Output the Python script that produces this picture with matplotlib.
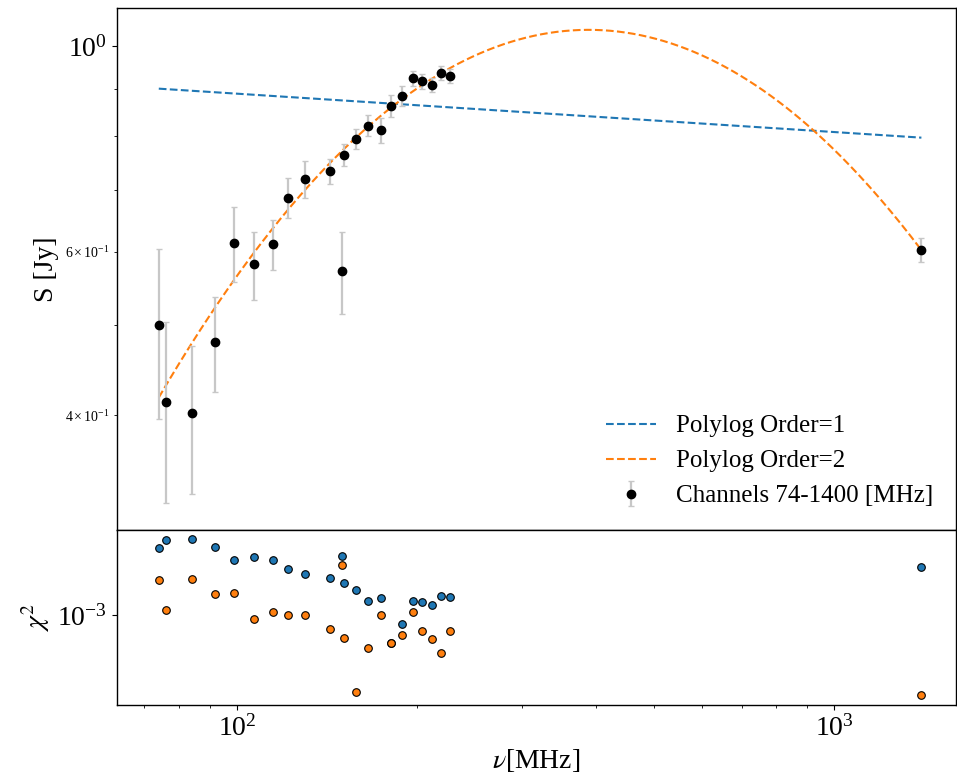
import numpy as np
import matplotlib
matplotlib.use('Agg')
import matplotlib.pyplot as plt
from matplotlib.ticker import NullLocator

plt.rcParams['font.family'] = ['Liberation Serif', 'DejaVu Serif']
plt.rcParams['mathtext.fontset'] = 'stix'

# channel frequencies [MHz]
freq = [74, 76, 84, 92, 99, 107, 115, 122, 130, 143, 150, 151, 158, 166,
        174, 181, 189, 197, 204, 212, 220, 227, 1400]
# flux density [Jy] and errors
flux = [0.500, 0.413, 0.402, 0.480, 0.614, 0.582, 0.612, 0.686, 0.719, 0.733,
        0.572, 0.764, 0.794, 0.821, 0.812, 0.862, 0.884, 0.923, 0.917, 0.908,
        0.935, 0.929, 0.603]
flux_err = [0.104, 0.091, 0.073, 0.056, 0.057, 0.049, 0.038, 0.034, 0.033, 0.023,
            0.058, 0.021, 0.020, 0.021, 0.025, 0.024, 0.022, 0.018, 0.017, 0.016,
            0.016, 0.016, 0.018]

# chi^2 per channel for each fit
chi2_order1 = [1.0640e-3, 1.0716e-3, 1.0729e-3, 1.0653e-3, 1.0525e-3, 1.0552e-3,
               1.0525e-3, 1.0438e-3, 1.0390e-3, 1.0351e-3, 1.0564e-3, 1.0303e-3,
               1.0231e-3, 1.0133e-3, 1.0161e-3, 0.9741e-3, 0.9920e-3, 1.0133e-3,
               1.0121e-3, 1.0096e-3, 1.0180e-3, 1.0171e-3, 1.0451e-3]
chi2_order2 = [1.0329e-3, 1.0049e-3, 1.0339e-3, 1.0193e-3, 1.0206e-3, 0.9966e-3,
               1.0025e-3, 1.0001e-3, 1.0001e-3, 0.9871e-3, 1.0474e-3, 0.9789e-3,
               0.9315e-3, 0.9699e-3, 1.0001e-3, 0.9741e-3, 0.9814e-3, 1.0025e-3,
               0.9850e-3, 0.9780e-3, 0.9654e-3, 0.9850e-3, 0.9289e-3]

# polylog coefficients (log10 S vs log10 nu), highest order first
coef_order1 = [-0.04135, 0.0314]
coef_order2 = [-0.7647, 3.9596, -5.1082]

nu = np.geomspace(freq[0], freq[-1], 300)
fit1 = 10 ** np.polyval(coef_order1, np.log10(nu))
fit2 = 10 ** np.polyval(coef_order2, np.log10(nu))

fig = plt.figure(figsize=(9.57, 7.78), dpi=100)
ax = fig.add_axes([0.1223, 0.3188, 0.8767, 0.6709])
ax2 = fig.add_axes([0.1223, 0.0938, 0.8767, 0.2250], sharex=ax)

l1, = ax.plot(nu, fit1, '--', color='#1f77b4', lw=1.5, label='Polylog Order=1')
l2, = ax.plot(nu, fit2, '--', color='#ff7f0e', lw=1.5, label='Polylog Order=2')
eb = ax.errorbar(freq, flux, yerr=flux_err, fmt='o', color='k', ms=6,
                 ecolor='0.78', elinewidth=1.6, capsize=2, capthick=1,
                 label='Channels 74-1400 [MHz]')
for cap in eb[1]:
    cap.set_color('0.3')

ax.set_xscale('log')
ax.set_yscale('log')
ax.set_xlim(63, 1600)
ax.set_ylim(0.301, 1.099)
ax.set_ylabel('S [Jy]', fontsize=20)
ax.tick_params(axis='y', which='major', labelsize=20)
ax.tick_params(axis='y', which='minor', labelsize=10)
ax.tick_params(axis='x', which='both', bottom=False, labelbottom=False)
ax.legend(handles=[l1, l2, eb], loc='lower right', frameon=False, fontsize=18)

ax2.scatter(freq, chi2_order1, s=30, color='#1f77b4', edgecolors='k', linewidths=0.8, zorder=3)
ax2.scatter(freq, chi2_order2, s=30, color='#ff7f0e', edgecolors='k', linewidths=0.8, zorder=4)
ax2.set_yscale('log')
ax2.set_ylim(9.2e-4, 1.082e-3)
ax2.yaxis.set_minor_locator(NullLocator())
ax2.set_ylabel(r'$\chi^2$', fontsize=20)
ax2.set_xlabel(r'$\nu$[MHz]', fontsize=20)
ax2.tick_params(axis='both', which='major', labelsize=20)

for a in (ax, ax2):
    for s in a.spines.values():
        s.set_linewidth(1.0)

fig.savefig('out.png', dpi=100)
